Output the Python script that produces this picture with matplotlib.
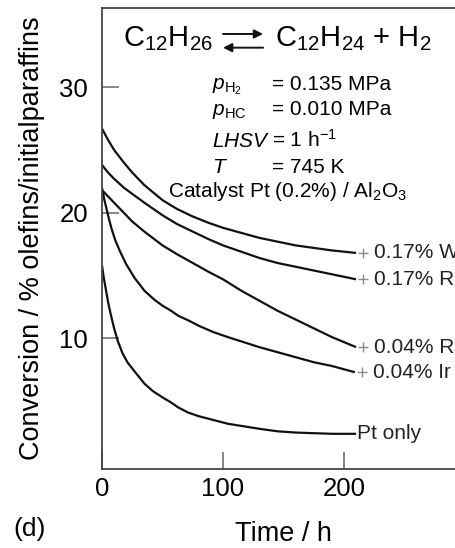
import matplotlib.pyplot as plt

plt.rcParams['font.family'] = ['Liberation Sans', 'DejaVu Sans']
plt.rcParams['mathtext.fontset'] = 'custom'
plt.rcParams['mathtext.rm'] = 'Liberation Sans'
plt.rcParams['mathtext.it'] = 'Liberation Sans:italic'

# curve data (time in h, conversion in %)
t_w = [0, 5, 10, 18, 25, 35, 50, 62, 75, 88, 100, 115, 130, 145, 160, 175, 190, 210]
w = [26.7, 25.8, 25.0, 24.0, 23.2, 22.2, 21.0, 20.3, 19.7, 19.2, 18.8, 18.4,
     18.0, 17.7, 17.4, 17.2, 17.0, 16.8]

t_re = [0, 5, 10, 18, 25, 35, 50, 62, 75, 88, 100, 115, 130, 145, 160, 175, 190, 210]
re = [23.8, 23.2, 22.7, 22.0, 21.5, 20.8, 19.8, 19.1, 18.5, 17.9, 17.4, 16.9,
      16.4, 16.0, 15.7, 15.4, 15.1, 14.7]

t_ru = [0, 5, 10, 18, 25, 35, 50, 62, 75, 88, 100, 115, 130, 145, 160, 175, 190, 210]
ru = [21.8, 21.3, 20.8, 20.0, 19.3, 18.5, 17.4, 16.7, 16.0, 15.3, 14.7, 13.8,
      13.0, 12.2, 11.5, 10.8, 10.1, 9.3]

t_ir = [0, 2, 4, 6, 8, 11, 15, 20, 27, 35, 43, 50, 57, 63, 72, 80, 92, 104,
        117, 130, 145, 160, 175, 190, 209]
ir = [22.0, 21.0, 20.2, 19.4, 18.7, 17.8, 16.9, 15.9, 14.8, 13.8, 13.1, 12.6,
      12.2, 11.8, 11.4, 11.0, 10.5, 10.1, 9.7, 9.3, 8.9, 8.5, 8.1, 7.8, 7.3]

t_pt = [0, 1.5, 3, 5, 7, 10, 13, 17, 21, 25, 30, 35, 42, 50, 57, 63, 71, 80,
        92, 104, 117, 130, 145, 160, 175, 190, 210]
pt = [15.8, 14.8, 14.0, 12.9, 12.0, 10.8, 9.8, 8.8, 8.1, 7.6, 7.0, 6.4, 5.8,
      5.3, 4.9, 4.5, 4.1, 3.8, 3.5, 3.2, 3.0, 2.8, 2.6, 2.5, 2.45, 2.4, 2.4]

series = [
    (t_w, w, '0.17% W', True),
    (t_re, re, '0.17% Re', True),
    (t_ru, ru, '0.04% Ru', True),
    (t_ir, ir, '0.04% Ir', True),
    (t_pt, pt, 'Pt only', False),
]

fig = plt.figure(figsize=(4.56, 5.48), dpi=100)
ax = fig.add_axes([0.2237, 0.1442, 0.796, 0.8412])

for t, v, lab, plus in series:
    ax.plot(t, v, color='#111111', lw=1.6, solid_capstyle='butt')
    if plus:
        # small grey cross at the curve end, then the label
        ax.plot(t[-1] + 5.5, v[-1], marker='+', ms=6.5, mew=1.0,
                color='#8a8a8a', clip_on=False)
        ax.text(t[-1] + 15, v[-1], lab, fontsize=15, va='center', ha='left',
                color='#222222', clip_on=False)
    else:
        ax.text(t[-1] + 1, v[-1], lab, fontsize=15, va='center', ha='left',
                color='#222222', clip_on=False)

ax.set_xlim(0, 300)
ax.set_ylim(-0.4, 36.3)
ax.set_xticks([0, 100, 200])
ax.set_yticks([10, 20, 30])
ax.tick_params(direction='in', length=12, width=1.1, color='#666666',
               labelsize=18.5)
ax.tick_params(axis='y', pad=10)
ax.tick_params(axis='x', pad=6)
for s in ax.spines.values():
    s.set_color('#444444')
    s.set_linewidth(1.3)

ax.set_xlabel('Time / h', fontsize=19.5, labelpad=14)
ax.set_ylabel('Conversion / % olefins/initialparaffins', fontsize=19.5,
              labelpad=10)
fig.text(0.03, 0.022, '(d)', fontsize=19, va='baseline')

# reaction equation
fig.text(0.467, 0.916, r'C$_{12}$H$_{26}$', fontsize=21, ha='right',
         va='baseline')
fig.text(0.603, 0.916, r'C$_{12}$H$_{24}$ + H$_2$', fontsize=21, ha='left',
         va='baseline')
arr = dict(arrowstyle='-|>', lw=1.4, color='#111111', mutation_scale=13,
           shrinkA=0, shrinkB=0)
fig.add_artist(plt.Annotation('', xy=(0.577, 0.938), xytext=(0.489, 0.938),
                              xycoords='figure fraction', arrowprops=arr))
fig.add_artist(plt.Annotation('', xy=(0.489, 0.913), xytext=(0.577, 0.913),
                              xycoords='figure fraction', arrowprops=arr))

# conditions
x1, x2 = 0.465, 0.597
rows = [
    (0.836, r'$p_{\mathrm{H_2}}$', '= 0.135 MPa'),
    (0.790, r'$p_{\mathrm{HC}}$', '= 0.010 MPa'),
    (0.732, r'$LHSV$', r'= 1 h$^{-1}$'),
    (0.684, r'$T$', '= 745 K'),
]
for y, a, b in rows:
    fig.text(x1, y, a, fontsize=15, va='baseline')
    fig.text(x2, y, b, fontsize=15, va='baseline')
fig.text(0.368, 0.641, r'Catalyst Pt (0.2%) / Al$_2$O$_3$', fontsize=15,
         ha='left', va='baseline')

fig.savefig('out.png', dpi=100)
